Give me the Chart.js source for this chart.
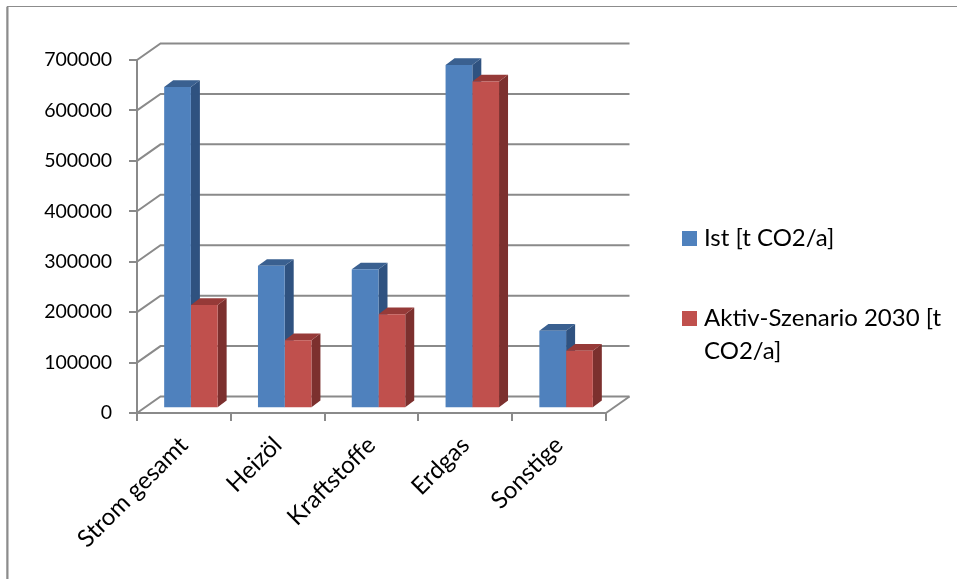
<!DOCTYPE html>
<html>
<head>
<meta charset="utf-8">
<script src="https://cdn.jsdelivr.net/npm/chart.js@4"></script>
<style>
  body { margin: 0; background: #fff; }
  canvas { display: block; }
</style>
</head>
<body>
<canvas id="chart" width="957" height="579"></canvas>
<script>
const categories = ['Strom gesamt', 'Heizöl', 'Kraftstoffe', 'Erdgas', 'Sonstige'];
const istValues = [637000, 282500, 275500, 681000, 154000];
const aktivValues = [205000, 135000, 186500, 648000, 114000];
const seriesNames = ['Ist [t CO2/a]', 'Aktiv-Szenario 2030 [t CO2/a]'];
const fontName = 'Lato, "Open Sans", sans-serif';

// faces for the fake 3D look
const barDepth = { x: 9, y: -6.7 };
const wallDepth = { x: 23.5, y: -16.5 };
const barShift = { x: 7, y: -4.7 };
const sideColors = ['#2f5280', '#7c302e'];
const topColors = ['#3a6090', '#963a38'];
const lineColor = '#8a8a8a';

function drawLine(ctx, points) {
    ctx.beginPath();
    points.forEach((p, i) => i ? ctx.lineTo(p[0], p[1]) : ctx.moveTo(p[0], p[1]));
    ctx.stroke();
}

function fillFace(ctx, points, color) {
    ctx.fillStyle = color;
    ctx.beginPath();
    points.forEach((p, i) => i ? ctx.lineTo(p[0], p[1]) : ctx.moveTo(p[0], p[1]));
    ctx.closePath();
    ctx.fill();
}

const wallPlugin = {
    id: 'wall',
    beforeDraw(chart) {
        // outer frame of the pasted chart
        const ctx = chart.ctx;
        ctx.save();
        ctx.strokeStyle = '#8c8c8c';
        ctx.lineWidth = 1;
        drawLine(ctx, [[7, 579], [7, 6.5], [957, 6.5]]);
        ctx.lineWidth = 2;
        drawLine(ctx, [[7.5, 579], [7.5, 7]]);
        ctx.restore();
    },
    beforeDatasetsDraw(chart) {
        const ctx = chart.ctx;
        const area = chart.chartArea;
        const yScale = chart.scales.y;
        ctx.save();
        ctx.lineWidth = 2;
        ctx.strokeStyle = lineColor;
        yScale.ticks.forEach(t => {
            const y = yScale.getPixelForValue(t.value);
            drawLine(ctx, [
                [area.left, y],
                [area.left + wallDepth.x, y + wallDepth.y],
                [area.right + wallDepth.x, y + wallDepth.y]
            ]);
        });
        drawLine(ctx, [
            [area.right, area.bottom],
            [area.right + wallDepth.x, area.bottom + wallDepth.y]
        ]);
        ctx.restore();

        // bars sit a little behind the front plane
        ctx.save();
        ctx.translate(barShift.x, barShift.y);
        chart.data.datasets.forEach((ds, d) => {
            chart.getDatasetMeta(d).data.forEach(bar => {
                const left = bar.x - bar.width / 2;
                const right = bar.x + bar.width / 2;
                fillFace(ctx, [
                    [right, bar.y], [right + barDepth.x, bar.y + barDepth.y],
                    [right + barDepth.x, bar.base + barDepth.y], [right, bar.base]
                ], sideColors[d]);
                fillFace(ctx, [
                    [left, bar.y], [left + barDepth.x, bar.y + barDepth.y],
                    [right + barDepth.x, bar.y + barDepth.y], [right, bar.y]
                ], topColors[d]);
            });
        });
    },
    afterDatasetsDraw(chart) {
        chart.ctx.restore();
    },
    afterDraw(chart) {
        // legend on the right, long names wrap like in the original
        const ctx = chart.ctx;
        const rowTops = [231, 311];
        ctx.save();
        ctx.font = '24px ' + fontName;
        ctx.textBaseline = 'alphabetic';
        seriesNames.forEach((name, i) => {
            ctx.fillStyle = chart.data.datasets[i].backgroundColor;
            ctx.fillRect(682, rowTops[i], 15, 15);
            ctx.fillStyle = '#000';
            let line = '';
            let row = 0;
            name.split(' ').forEach(word => {
                const test = line ? line + ' ' + word : word;
                if (ctx.measureText(test).width > 245) {
                    ctx.fillText(line, 704, rowTops[i] + 15 + row * 33);
                    row++;
                    line = word;
                } else {
                    line = test;
                }
            });
            ctx.fillText(line, 704, rowTops[i] + 15 + row * 33);
        });
        ctx.restore();
    }
};

new Chart(document.getElementById('chart'), {
    type: 'bar',
    data: {
        labels: categories,
        datasets: [
            { label: seriesNames[0], data: istValues, backgroundColor: '#4f81bd' },
            { label: seriesNames[1], data: aktivValues, backgroundColor: '#c0504d' }
        ]
    },
    options: {
        responsive: false,
        animation: false,
        layout: { padding: { top: 60, right: 351, left: 0, bottom: 0 } },
        plugins: { legend: { display: false }, tooltip: { enabled: false } },
        datasets: { bar: { categoryPercentage: 0.57, barPercentage: 1 } },
        scales: {
            x: {
                afterFit(scale) { scale.height = 166; },
                grid: { drawOnChartArea: false, color: lineColor, lineWidth: 2, tickLength: 8 },
                border: { color: lineColor, width: 2 },
                ticks: {
                    color: '#000', maxRotation: 45, minRotation: 45, padding: 10,
                    font: { family: fontName, size: 24 }
                }
            },
            y: {
                min: 0,
                max: 700000,
                afterFit(scale) { scale.width = 137; },
                grid: { drawOnChartArea: false, color: lineColor, lineWidth: 2, tickLength: 8 },
                border: { color: lineColor, width: 2 },
                ticks: {
                    color: '#000', stepSize: 100000, padding: 17,
                    callback: v => String(v),
                    font: { family: fontName, size: 19.5 }
                }
            }
        }
    },
    plugins: [wallPlugin]
});
</script>
</body>
</html>
